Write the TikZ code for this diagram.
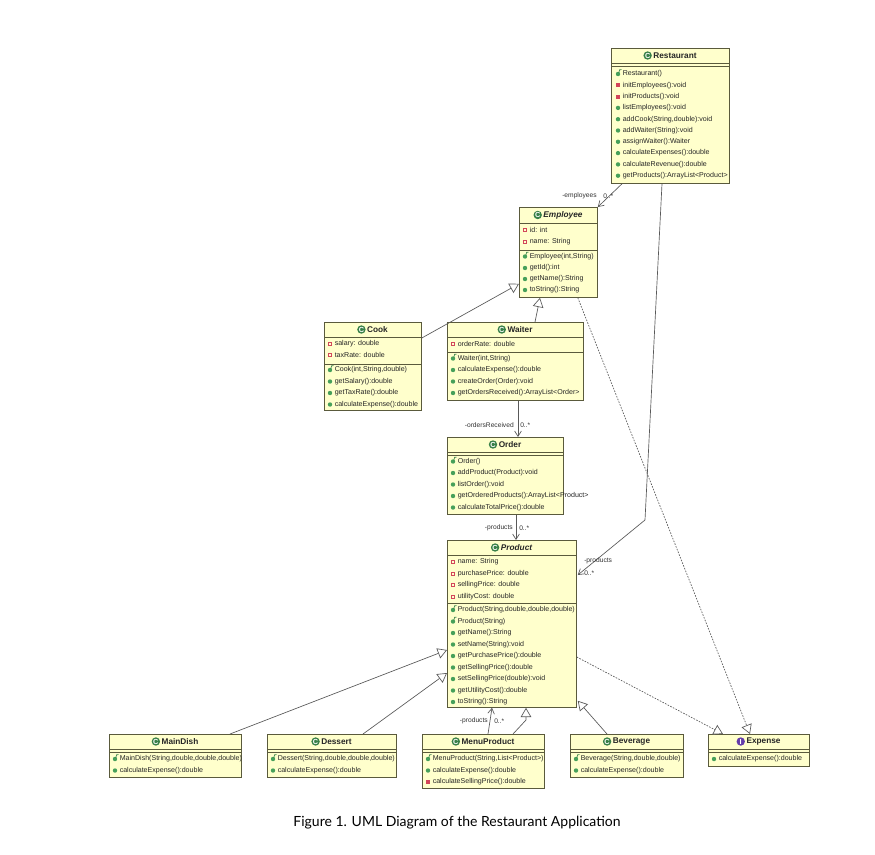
\documentclass[tikz,border=0pt]{standalone}
\usepackage{fontspec}
\setmainfont{Liberation Sans}
\newfontfamily\capfont{Lato}
\usetikzlibrary{arrows.meta,calc}
\definecolor{umlyellow}{RGB}{255,255,204}
\definecolor{umlline}{RGB}{90,90,60}
\definecolor{pubgreen}{RGB}{70,160,90}
\definecolor{privred}{RGB}{210,70,90}
\definecolor{ifpurple}{RGB}{100,60,170}
\tikzset{
  x=0.75pt,y=-0.75pt,
  umlbox/.style={draw=umlline,fill=umlyellow,line width=0.6pt,anchor=north west,inner sep=0pt},
  sepline/.style={draw=umlline,line width=0.5pt},
  txt/.style={anchor=west,inner sep=0pt,font=\fontsize{5.3}{6}\selectfont,text=black!85},
  ttl/.style={inner sep=0pt,font=\fontsize{6.2}{7}\selectfont\bfseries,text=black!85},
  lbl/.style={inner sep=0pt,font=\fontsize{5}{6}\selectfont,text=black!80},
  conn/.style={draw=black!65,line width=0.5pt},
  assoc/.style={conn,-{Straight Barb[length=4pt,width=5pt]}},
  gen/.style={conn,-{Triangle[open,length=7pt,width=8pt,fill=white]}},
  real/.style={conn,dash pattern=on 1.2pt off 1pt,-{Triangle[open,length=7pt,width=8pt,fill=white]}},
  pub/.pic={\fill[pubgreen] (0,0) circle (2.2);},
  ctor/.pic={\fill[pubgreen] (0,0) circle (2.2);\draw[pubgreen!80!black,line width=0.5pt] (0.8,-1.2) -- (1.6,-4.2) -- (3.6,-4.4);},
  priv/.pic={\fill[privred] (-2,-2) rectangle (2,2);},
  attr/.pic={\draw[privred,line width=0.6pt] (-1.6,-1.6) rectangle (1.6,1.6);},
  cicon/.pic={\fill[pubgreen!80!black] (0,0) circle (4.2);\node[text=white,inner sep=0pt,font=\fontsize{5.5}{6}\selectfont\bfseries] at (0,0) {C};},
  iicon/.pic={\fill[ifpurple] (0,0) circle (4.2);\node[text=white,inner sep=0pt,font=\fontsize{5.5}{6}\selectfont\bfseries] at (0,0) {I};},
}
\newcommand\uitem[4]{\pic at (#1,#2) {#3};\node[txt] at ($(#1,#2)+(4.5,0)$) {#4};}
\newcommand\ubox[9]{% name x1 y1 x2 y2 sep1 sep2 title icon
  \node[umlbox,minimum width={(#4-#2)*0.75pt},minimum height={(#5-#3)*0.75pt}] (#1) at (#2,#3) {};
  \draw[sepline] (#2,#6) -- (#4,#6);
  \draw[sepline] (#2,#7) -- (#4,#7);
  \node[ttl] (#1t) at ({(#2+#4)/2+5},{(#3+#6)/2}) {#8};
  \pic at ($(#1t.west)+(-5.5,0)$) {#9};
}
\begin{document}
\begin{tikzpicture}
\useasboundingbox[fill=white] (0,0) rectangle (875,854);
% Restaurant
\ubox{rest}{611}{48}{729}{183}{63}{66}{Restaurant}{cicon}
\uitem{618}{74}{ctor}{Restaurant()}
\uitem{618}{85.3}{priv}{initEmployees():void}
\uitem{618}{96.6}{priv}{initProducts():void}
\uitem{618}{107.9}{pub}{listEmployees():void}
\uitem{618}{119.2}{pub}{addCook(String,double):void}
\uitem{618}{130.5}{pub}{addWaiter(String):void}
\uitem{618}{141.8}{pub}{assignWaiter():Waiter}
\uitem{618}{153.1}{pub}{calculateExpenses():double}
\uitem{618}{164.4}{pub}{calculateRevenue():double}
\uitem{618}{175.7}{pub}{getProducts():ArrayList<Product>}
% Employee
\ubox{emp}{519}{207}{597}{297}{223}{250}{\itshape Employee}{cicon}
\uitem{525}{230}{attr}{id: int}
\uitem{525}{241.5}{attr}{name: String}
\uitem{525}{256.5}{ctor}{Employee(int,String)}
\uitem{525}{268}{pub}{getId():int}
\uitem{525}{279}{pub}{getName():String}
\uitem{525}{290}{pub}{toString():String}
% Cook
\ubox{cook}{324}{322}{421}{410}{337}{364}{Cook}{cicon}
\uitem{330}{343.5}{attr}{salary: double}
\uitem{330}{355}{attr}{taxRate: double}
\uitem{330}{370}{ctor}{Cook(int,String,double)}
\uitem{330}{381.5}{pub}{getSalary():double}
\uitem{330}{393}{pub}{getTaxRate():double}
\uitem{330}{404.5}{pub}{calculateExpense():double}
% Waiter
\ubox{wait}{447}{322}{583}{400}{337}{352}{Waiter}{cicon}
\uitem{453}{343.5}{attr}{orderRate: double}
\uitem{453}{358.5}{ctor}{Waiter(int,String)}
\uitem{453}{370}{pub}{calculateExpense():double}
\uitem{453}{381.5}{pub}{createOrder(Order):void}
\uitem{453}{393}{pub}{getOrdersReceived():ArrayList<Order>}
% Order
\ubox{ord}{447}{437}{563}{514}{452}{455}{Order}{cicon}
\uitem{453}{461.5}{ctor}{Order()}
\uitem{453}{473}{pub}{addProduct(Product):void}
\uitem{453}{484.5}{pub}{listOrder():void}
\uitem{453}{496}{pub}{getOrderedProducts():ArrayList<Product>}
\uitem{453}{507.5}{pub}{calculateTotalPrice():double}
% Product
\ubox{prod}{447}{540}{576}{707}{555}{603}{\itshape Product}{cicon}
\uitem{453}{562}{attr}{name: String}
\uitem{453}{573.5}{attr}{purchasePrice: double}
\uitem{453}{585}{attr}{sellingPrice: double}
\uitem{453}{596.5}{attr}{utilityCost: double}
\uitem{453}{610}{ctor}{Product(String,double,double,double)}
\uitem{453}{621.5}{ctor}{Product(String)}
\uitem{453}{633}{pub}{getName():String}
\uitem{453}{644.5}{pub}{setName(String):void}
\uitem{453}{656}{pub}{getPurchasePrice():double}
\uitem{453}{667.5}{pub}{getSellingPrice():double}
\uitem{453}{679}{pub}{setSellingPrice(double):void}
\uitem{453}{690.5}{pub}{getUtilityCost():double}
\uitem{453}{702}{pub}{toString():String}
% MainDish
\ubox{main}{109}{734}{241}{777}{749}{752}{MainDish}{cicon}
\uitem{115}{759}{ctor}{MainDish(String,double,double,double)}
\uitem{115}{770.5}{pub}{calculateExpense():double}
% Dessert
\ubox{dess}{267}{734}{396}{777}{749}{752}{Dessert}{cicon}
\uitem{273}{759}{ctor}{Dessert(String,double,double,double)}
\uitem{273}{770.5}{pub}{calculateExpense():double}
% MenuProduct
\ubox{menu}{422}{734}{544}{788}{749}{752}{MenuProduct}{cicon}
\uitem{428}{759}{ctor}{MenuProduct(String,List<Product>)}
\uitem{428}{770.5}{pub}{calculateExpense():double}
\uitem{428}{782}{priv}{calculateSellingPrice():double}
% Beverage
\ubox{bev}{570}{734}{683}{777}{749}{752}{Beverage}{cicon}
\uitem{576}{759}{ctor}{Beverage(String,double,double)}
\uitem{576}{770.5}{pub}{calculateExpense():double}
% Expense
\ubox{exp}{708}{734}{809}{766}{749}{752}{Expense}{iicon}
\uitem{714}{759}{pub}{calculateExpense():double}
% connectors
\coordinate (bendA) at (645,520);
\draw[assoc] ($(rest.south west)+(11,0)$) -- ($(emp.north east)+(0,0)$);
\node[lbl,anchor=east] at (597,196) {-employees};
\node[lbl,anchor=west] at (603,196) {0..*};
\draw[assoc] ($(rest.south west)+(51,0)$) -- (bendA) -- ($(prod.north east)+(1,35)$);
\node[lbl,anchor=west] at (584,561) {-products};
\node[lbl,anchor=west] at (584,573) {0..*};
\draw[gen] ($(cook.north east)+(0,16)$) -- ($(emp.south west)+(0,-14)$);
\draw[gen] ($(wait.north west)+(88,0)$) -- ($(emp.south west)+(21,0)$);
\draw[real] ($(emp.south east)+(-20,0)$) -- ($(exp.north west)+(42,0)$);
\draw[assoc] ($(wait.south west)+(71,0)$) -- ($(ord.north west)+(71,0)$);
\node[lbl,anchor=east] at (514,425) {-ordersReceived};
\node[lbl,anchor=west] at (520,425) {0..*};
\draw[assoc] ($(ord.south west)+(69,0)$) -- ($(prod.north west)+(69,0)$);
\node[lbl,anchor=east] at (513,528) {-products};
\node[lbl,anchor=west] at (519,528) {0..*};
\draw[gen] ($(main.north west)+(121,0)$) -- ($(prod.north west)+(0,110)$);
\draw[gen] ($(dess.north west)+(96,0)$) -- ($(prod.north west)+(0,133)$);
\draw[assoc] ($(menu.north west)+(66,0)$) -- ($(prod.south west)+(45,0)$);
\node[lbl,anchor=east] at (488,721) {-products};
\node[lbl,anchor=west] at (494,721) {0..*};
\coordinate (bendB) at (526,720);
\draw[gen] ($(menu.north west)+(91,0)$) -- (bendB) -- ($(prod.south west)+(79,0)$);
\draw[gen] ($(bev.north west)+(37,0)$) -- ($(prod.south east)+(1,-7)$);
\draw[real] ($(prod.north east)+(0,117)$) -- ($(exp.north west)+(15,0)$);
\node[inner sep=0pt,font=\capfont\fontsize{10.5}{12}\selectfont] (cap) at (457,823) {Figure 1. UML Diagram of the Restaurant Application};
\end{tikzpicture}
\end{document}
